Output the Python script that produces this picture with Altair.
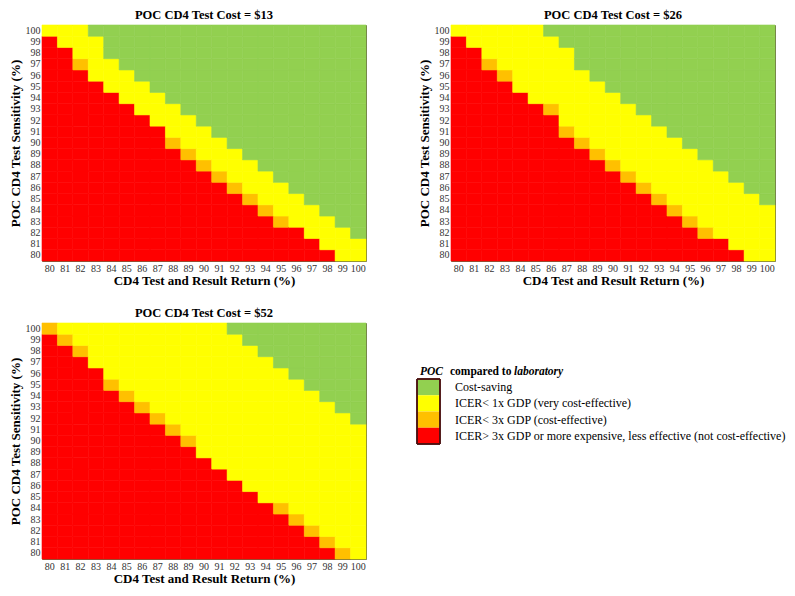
import altair as alt
import pandas as pd

X_VALUES = list(range(80, 101))
Y_VALUES = list(range(80, 101))

CATEGORIES = [
    "Cost-saving",
    "ICER< 1x GDP (very cost-effective)",
    "ICER< 3x GDP (cost-effective)",
    "ICER> 3x GDP or more expensive, less effective (not cost-effective)",
]
COLORS = ["#92D050", "#FFFF00", "#FFC000", "#FF0000"]

# For each column (x = 80..100): highest red row, highest orange row, highest yellow row
P13_RED = [99, 98, 96, 95, 94, 93, 92, 91, 89, 88, 87, 86, 85, 84, 83, 82, 82, 81, 80, 79, 79]
P13_ORANGE = [99, 98, 97, 95, 94, 93, 92, 91, 90, 89, 88, 87, 86, 85, 84, 83, 82, 81, 80, 79, 79]
P13_YELLOW = [100, 100, 100, 99, 97, 96, 95, 94, 93, 92, 91, 90, 89, 88, 87, 86, 85, 84, 83, 82, 81]

P26_RED = [99, 98, 96, 95, 94, 93, 92, 90, 89, 88, 87, 86, 85, 84, 83, 82, 81, 81, 80, 79, 79]
P26_ORANGE = [99, 98, 97, 96, 94, 93, 93, 91, 90, 89, 88, 87, 86, 85, 84, 83, 82, 81, 80, 79, 79]
P26_YELLOW = [100, 100, 100, 100, 100, 100, 99, 98, 96, 95, 94, 93, 92, 91, 90, 89, 88, 87, 86, 85, 84]

P52_RED = [99, 98, 97, 96, 94, 93, 92, 91, 90, 89, 88, 87, 86, 85, 84, 83, 82, 81, 80, 79, 79]
P52_ORANGE = [100, 99, 98, 96, 95, 94, 93, 92, 91, 90, 88, 87, 86, 85, 84, 84, 83, 82, 81, 80, 79]
P52_YELLOW = [100, 100, 100, 100, 100, 100, 100, 100, 100, 100, 100, 100, 99, 98, 97, 96, 95, 94, 93, 92, 91]

TITLES = ["POC CD4 Test Cost = $13", "POC CD4 Test Cost = $26", "POC CD4 Test Cost = $52"]
LEGEND_TITLE_PARTS = ["POC", "compared to", "laboratory"]

FONT = "Liberation Serif"
color_scale = alt.Scale(domain=CATEGORIES, range=COLORS)

PW = 324
PH = 236


def grid_frame(red, orange, yellow):
    rows = []
    for i, xv in enumerate(X_VALUES):
        for yv in Y_VALUES:
            if yv <= red[i]:
                c = CATEGORIES[3]
            elif yv <= orange[i]:
                c = CATEGORIES[2]
            elif yv <= yellow[i]:
                c = CATEGORIES[1]
            else:
                c = CATEGORIES[0]
            rows.append({"x": xv, "y": yv, "cat": c})
    return pd.DataFrame(rows)


def make_panel(red, orange, yellow, title):
    df = grid_frame(red, orange, yellow)
    return (
        alt.Chart(df, title=alt.TitleParams(title, font=FONT, fontSize=12.5, fontWeight="bold",
                                             color="black", offset=3))
        .mark_rect(strokeWidth=0.6)
        .encode(
            x=alt.X("x:O", sort=X_VALUES, scale=alt.Scale(paddingInner=0, paddingOuter=0),
                    axis=alt.Axis(title="CD4 Test and Result Return (%)", labelAngle=0)),
            y=alt.Y("y:O", sort="descending", scale=alt.Scale(paddingInner=0, paddingOuter=0),
                    axis=alt.Axis(title="POC CD4 Test Sensitivity (%)", minExtent=18, maxExtent=18)),
            color=alt.Color("cat:N", scale=color_scale, legend=None),
            stroke=alt.Stroke("cat:N", scale=color_scale, legend=None),
        )
        .properties(width=PW, height=PH)
    )


p1 = make_panel(P13_RED, P13_ORANGE, P13_YELLOW, TITLES[0])
p2 = make_panel(P26_RED, P26_ORANGE, P26_YELLOW, TITLES[1])
p3 = make_panel(P52_RED, P52_ORANGE, P52_YELLOW, TITLES[2])

# Legend panel
leg_df = pd.DataFrame({"cat": CATEGORIES})
LEG_TOP = 56
LEG_H = 65
ybands = alt.Y("cat:N", sort=CATEGORIES, axis=None,
               scale=alt.Scale(range=[LEG_TOP, LEG_TOP + LEG_H], paddingInner=0, paddingOuter=0))
swatches = alt.Chart(leg_df).mark_rect().encode(
    y=ybands, x=alt.value(0), x2=alt.value(23),
    color=alt.Color("cat:N", scale=color_scale, legend=None),
)
outline = alt.Chart(leg_df).mark_rect(fill=None, stroke="#4a1010", strokeWidth=1).encode(
    x=alt.value(0), x2=alt.value(23), y=alt.value(LEG_TOP), y2=alt.value(LEG_TOP + LEG_H)
)
labels = alt.Chart(leg_df).mark_text(align="left", baseline="middle", font=FONT, fontSize=12,
                                      color="black").encode(
    y=ybands, x=alt.value(38), text="cat:N"
)
t_df = pd.DataFrame({"t": LEGEND_TITLE_PARTS})


def title_part(i, xpos, italic):
    kw = dict(align="left", baseline="middle", font=FONT, fontSize=11.5, fontWeight="bold",
              color="black")
    if italic:
        kw["fontStyle"] = "italic"
    return alt.Chart(t_df).transform_filter(alt.datum.t == LEGEND_TITLE_PARTS[i]).mark_text(
        **kw).encode(x=alt.value(xpos), y=alt.value(LEG_TOP - 7), text="t:N")


legend_panel = alt.layer(
    swatches, outline, labels,
    title_part(0, 3, True), title_part(1, 33, False), title_part(2, 97, True),
).properties(width=330, height=PH, view=alt.ViewBackground(stroke=None))

top = alt.hconcat(p1, p2, spacing=50)
bottom = alt.hconcat(p3, legend_panel, spacing=49)
chart = (
    alt.vconcat(top, bottom, spacing=18)
    .properties(padding={"left": 0, "top": 0, "right": 0, "bottom": 0})
    .configure_view(stroke="#6b6b45", strokeWidth=1)
    .configure_axis(
        labelFont=FONT, labelFontSize=10, labelColor="#333333", ticks=False, domain=False,
        labelPadding=2, titleFont=FONT, titleFontSize=13, titleFontWeight="bold",
        titleColor="black", titlePadding=1,
    )
    .configure_axisY(titlePadding=2)
)

chart.save("out.html", embed_options={"renderer": "svg", "actions": False})
